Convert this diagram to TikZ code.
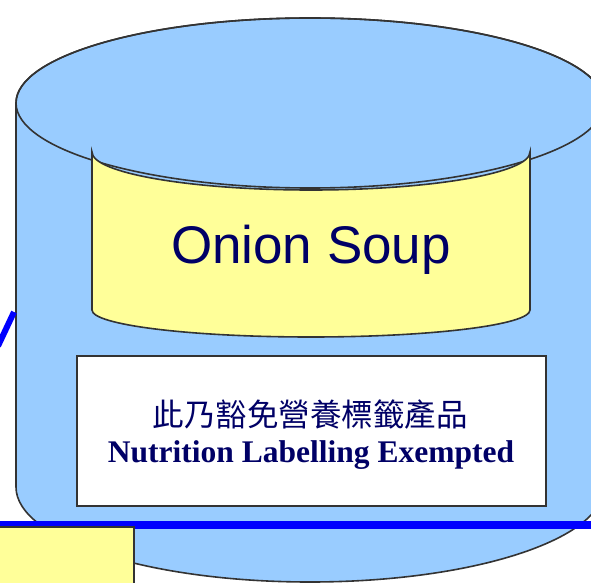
\documentclass[tikz,border=0pt]{standalone}
\usepackage{fontspec}
\setmainfont{Liberation Serif}
\newfontfamily\armfont{Liberation Sans}
\newfontfamily\cjkfont{Noto Sans CJK TC}
\definecolor{cylblue}{HTML}{99CCFF}
\definecolor{lblyellow}{HTML}{FFFF99}
\definecolor{edgegray}{HTML}{333333}
\definecolor{navy}{HTML}{000066}
\tikzset{
  outline/.style={draw=edgegray, line width=1.6pt},
  blueline/.style={draw=blue, line width=8pt},
}
\begin{document}
\begin{tikzpicture}[x=1pt,y=1pt]
\useasboundingbox (0,0) rectangle (591,582);
\clip (0,0) rectangle (591,582);
% cylinder body
\path[fill=cylblue, outline] (16,479) -- (16,95) arc (180:360:294 and 95) -- (604,479) arc (0:180:294 and 85) -- cycle;
\draw[outline] (310,479) ellipse (294 and 85);
% yellow curved label
\path[fill=lblyellow, outline] (92,430) -- (92,272) arc (180:360:219 and 27) -- (530,430) arc (360:180:219 and 38) -- cycle;
\node[font=\armfont\fontsize{53}{56}\selectfont, text=navy] (soup) at (311,332) {Onion Soup};
% white label
\node[draw=edgegray, line width=1.8pt, fill=white, minimum width=469pt, minimum height=150pt, anchor=south west, inner sep=0pt] (plate) at (76,75) {};
\node[font=\cjkfont\fontsize{31.5}{34}\selectfont, text=navy] (cn) at (310,167) {此乃豁免營養標籤產品};
\node[font=\bfseries\fontsize{31.5}{34}\selectfont, text=navy, anchor=base] (en) at (311,120) {Nutrition Labelling Exempted};
% blue lines
\draw[blueline] (0,57) -- (591,57);
\coordinate (d1) at (-2,236);
\coordinate (d2) at (14,270);
\draw[draw=blue, line width=6pt] (d1) -- (d2);
% bottom-left yellow box
\node[draw=edgegray, line width=1.8pt, fill=lblyellow, minimum width=137pt, minimum height=70pt, anchor=north east, inner sep=0pt] (ybox) at (135,56) {};
\end{tikzpicture}
\end{document}
